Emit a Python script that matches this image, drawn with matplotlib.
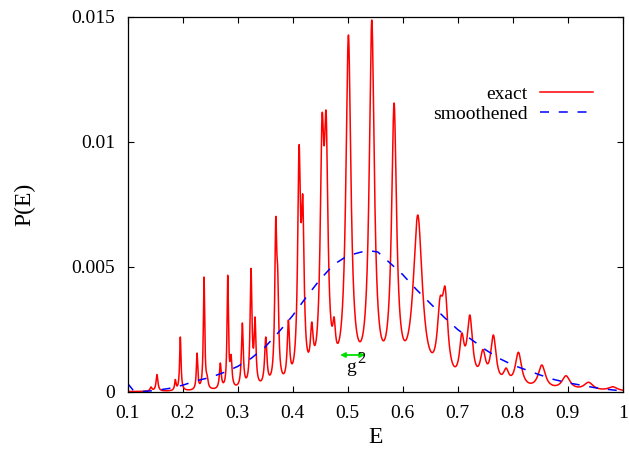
import numpy as np
import matplotlib
matplotlib.use("Agg")
import matplotlib.pyplot as plt

plt.rcParams["font.family"] = ["Liberation Serif", "DejaVu Serif"]
plt.rcParams["lines.scale_dashes"] = False

# Spectral lines of the exact distribution: position, height, half width
peak_E = [0.1427, 0.1536, 0.1869, 0.1960, 0.2264, 0.2391, 0.2446, 0.2687,
          0.2822, 0.2882, 0.3087, 0.3245, 0.3318, 0.3513, 0.3695, 0.3730,
          0.3924, 0.4118, 0.4185, 0.4349, 0.4536, 0.4610, 0.4755, 0.5015,
          0.5136, 0.5440, 0.5560, 0.5845, 0.6276, 0.6680, 0.6773, 0.7076,
          0.7222, 0.7460, 0.7650, 0.7880, 0.8105, 0.8530, 0.8970, 0.9380,
          0.9820]
peak_P = [0.00020, 0.00070, 0.00050, 0.00220, 0.00156, 0.00460, 0.00070, 0.00116,
          0.00468, 0.00150, 0.00276, 0.00495, 0.00300, 0.00220, 0.00700, 0.00495,
          0.00288, 0.00988, 0.00788, 0.00280, 0.01110, 0.01120, 0.00300, 0.01428,
          0.00300, 0.01488, 0.00310, 0.01156, 0.00708, 0.00380, 0.00420, 0.00236,
          0.00308, 0.00170, 0.00228, 0.00096, 0.00159, 0.00108, 0.00065, 0.00039,
          0.00021]
peak_w = [0.0020, 0.0020, 0.0015, 0.0015, 0.0015, 0.0015, 0.0020, 0.0020,
          0.0015, 0.0020, 0.0020, 0.0020, 0.0020, 0.0025, 0.0022, 0.0022,
          0.0025, 0.0030, 0.0030, 0.0030, 0.0040, 0.0040, 0.0030, 0.0055,
          0.0030, 0.0055, 0.0030, 0.0055, 0.0100, 0.0060, 0.0060, 0.0050,
          0.0060, 0.0060, 0.0060, 0.0060, 0.0070, 0.0080, 0.0090, 0.0100,
          0.0100]

# Smoothened distribution
smooth_E = [0.100, 0.110, 0.120, 0.135, 0.150, 0.175, 0.200, 0.225, 0.250,
            0.275, 0.300, 0.325, 0.350, 0.375, 0.400, 0.425, 0.450, 0.475,
            0.500, 0.525, 0.540, 0.555, 0.575, 0.600, 0.625, 0.650, 0.675,
            0.700, 0.725, 0.750, 0.775, 0.800, 0.825, 0.850, 0.875, 0.900,
            0.925, 0.950, 0.975, 1.000]
smooth_P = [0.00035, 0.00008, 0.00002, 0.00003, 0.00006, 0.00014, 0.00027, 0.00045, 0.00058,
            0.00078, 0.00102, 0.00135, 0.00180, 0.00240, 0.00305, 0.00380, 0.00450, 0.00510,
            0.00545, 0.00560, 0.00565, 0.00560, 0.00520, 0.00470, 0.00410, 0.00355, 0.00300,
            0.00250, 0.00210, 0.00170, 0.00135, 0.00108, 0.00088, 0.00068, 0.00050, 0.00037,
            0.00027, 0.00017, 0.00010, 0.00004]

xticks = [0.1, 0.2, 0.3, 0.4, 0.5, 0.6, 0.7, 0.8, 0.9, 1.0]
xticklabels = ["0.1", "0.2", "0.3", "0.4", "0.5", "0.6", "0.7", "0.8", "0.9", "1"]
yticks = [0, 0.005, 0.01, 0.015]
yticklabels = ["0", "0.005", "0.01", "0.015"]

# Exact curve: sum of Lorentzian lines, amplitudes scaled so that
# the curve passes through the listed heights at the line positions
pe = np.array(peak_E)
ph = np.array(peak_P)
pw = np.array(peak_w)


def lines(x, amp):
    x = np.atleast_1d(x)[:, None]
    return (amp / (1.0 + ((x - pe) / pw) ** 2)).sum(axis=1)


amp = ph.copy()
for _ in range(300):
    amp *= ph / lines(pe, amp)

E = np.linspace(0.1, 1.0, 6000)
P = lines(E, amp)

fig = plt.figure(figsize=(6.29, 4.51), dpi=100)
ax = fig.add_axes([127.5 / 629, 1 - 392 / 451, (622.7 - 127.5) / 629, (392 - 17) / 451])

ax.plot(E, P, color="#ff0000", lw=1.1, label="exact")
ax.plot(smooth_E, smooth_P, color="#0000ff", lw=1.1, dashes=(6.5, 7.0),
        label="smoothened")

ax.annotate("", xy=(0.5318, 0.00148), xytext=(0.4864, 0.00148),
            arrowprops=dict(arrowstyle="<|-|>", color="#00e000", lw=1.3,
                            mutation_scale=7, shrinkA=0, shrinkB=0))
ax.text(0.5064, 0.0008, "g", fontsize=14, ha="center", va="baseline")
ax.text(0.5245, 0.00116, "2", fontsize=12, ha="center", va="baseline")

ax.set_xlim(0.1, 1.0)
ax.set_ylim(0, 0.015)
ax.set_xticks(xticks)
ax.set_xticklabels(xticklabels)
ax.set_yticks(yticks)
ax.set_yticklabels(yticklabels)
ax.tick_params(direction="in", length=4, width=0.8, labelsize=14,
               top=True, right=True, pad=9)
for s in ax.spines.values():
    s.set_linewidth(0.9)

ax.set_xlabel("E", fontsize=17, labelpad=4)
ax.set_ylabel("P(E)", fontsize=17, labelpad=26)

ax.legend(loc="upper right", bbox_to_anchor=(0.94, 0.817), frameon=False,
          markerfirst=False, fontsize=14, handlelength=2.7, handletextpad=0.65,
          labelspacing=0.1, borderpad=0, borderaxespad=0)

fig.savefig("out.png", dpi=100)
